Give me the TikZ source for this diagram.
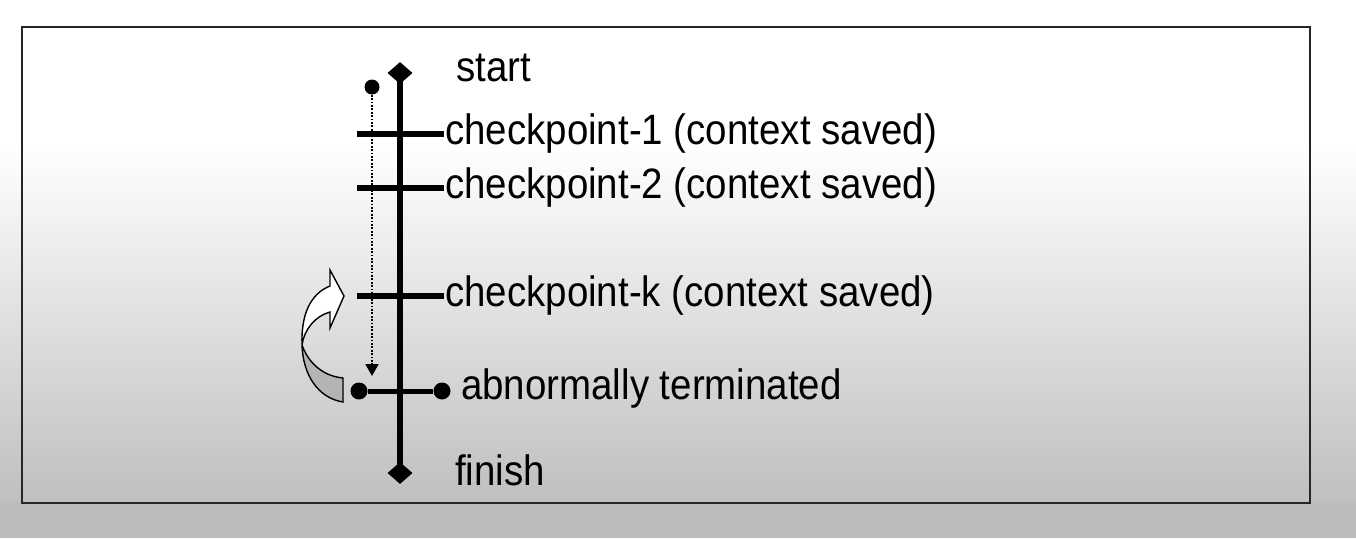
\documentclass[tikz,border=0pt]{standalone}
\usepackage{fontspec}
\setmainfont{Liberation Sans}[FakeStretch=0.905]
\usetikzlibrary{shapes.geometric,arrows.meta}
\definecolor{bgbot}{HTML}{BFBFBF}
\definecolor{bgbelow}{HTML}{BCBCBC}
\definecolor{arrgray}{HTML}{B4B4B4}
\tikzset{
  lbl/.style={anchor=base west, inner sep=0pt, font=\fontsize{42.5}{48}\selectfont},
  diam/.style={diamond, fill=black, inner sep=0pt, minimum width=25pt, minimum height=22pt},
  bigdot/.style={circle, fill=black, inner sep=0pt, minimum size=17pt},
  smalldot/.style={circle, fill=black, inner sep=0pt, minimum size=15pt},
  mainline/.style={line width=5.5pt},
  tickline/.style={line width=6pt},
  termline/.style={line width=5pt},
  dotline/.style={line width=1.8pt, dash pattern=on 1.8pt off 1.6pt, -{Triangle[width=13pt,length=12pt]}},
  frame/.style={line width=2.5pt, draw=black!85},
}
\begin{document}
\begin{tikzpicture}[x=1pt,y=-1pt]
\useasboundingbox (0,0) rectangle (1356,538);
% background
\fill[white] (0,0) rectangle (1356,144);
\shade[top color=white, bottom color=bgbot] (0,144) rectangle (1356,503);
\fill[bgbelow] (0,503) rectangle (1356,538);
\draw[frame] (22,27) rectangle (1310,503);
% main time line
\node[diam] (top) at (400,73) {};
\node[diam] (bot) at (400,473) {};
\draw[mainline] (top.center) -- (bot.center);
% checkpoints
\coordinate (c1l) at (357,134); \coordinate (c1r) at (444,134);
\coordinate (c2l) at (357,188); \coordinate (c2r) at (444,188);
\coordinate (ckl) at (357,296); \coordinate (ckr) at (444,296);
\draw[tickline] (c1l) -- (c1r);
\draw[tickline] (c2l) -- (c2r);
\draw[tickline] (ckl) -- (ckr);
% abnormal termination
\node[bigdot] (al) at (359,391) {};
\node[bigdot] (ar) at (442,391) {};
\draw[termline] (al) -- (ar);
% dotted progress line
\node[smalldot] (d0) at (372,87) {};
\coordinate (d1) at (372,376);
\draw[dotline] (d0) -- (d1);
% labels
\node[lbl] (ls) at (456,81) {start};
\node[lbl] (l1) at (445,144) {checkpoint-1 (context saved)};
\node[lbl] (l2) at (445,198) {checkpoint-2 (context saved)};
\node[lbl] (lk) at (445,306) {checkpoint-k (context saved)};
\node[lbl] (la) at (461,399) {abnormally terminated};
\node[lbl] (lf) at (455,485) {finish};
% curved rollback arrow
\fill[arrgray] (302,345) .. controls (308,362) and (322,376) .. (343,378)
  -- (343,402) .. controls (318,398) and (303,375) .. (302,345) -- cycle;
\fill[white] (302,345) .. controls (301,315) and (310,294) .. (330,286)
  -- (330,270) -- (344,296) -- (330,328) -- (330,312)
  .. controls (315,316) and (304,330) .. (302,345) -- cycle;
\draw[line width=1.4pt, line join=miter]
  (343,402) .. controls (318,398) and (303,375) .. (302,345)
  .. controls (301,315) and (310,294) .. (330,286)
  -- (330,270) -- (344,296) -- (330,328) -- (330,312)
  .. controls (315,316) and (304,330) .. (302,345)
  .. controls (308,362) and (322,376) .. (343,378) -- cycle;
\end{tikzpicture}
\end{document}
